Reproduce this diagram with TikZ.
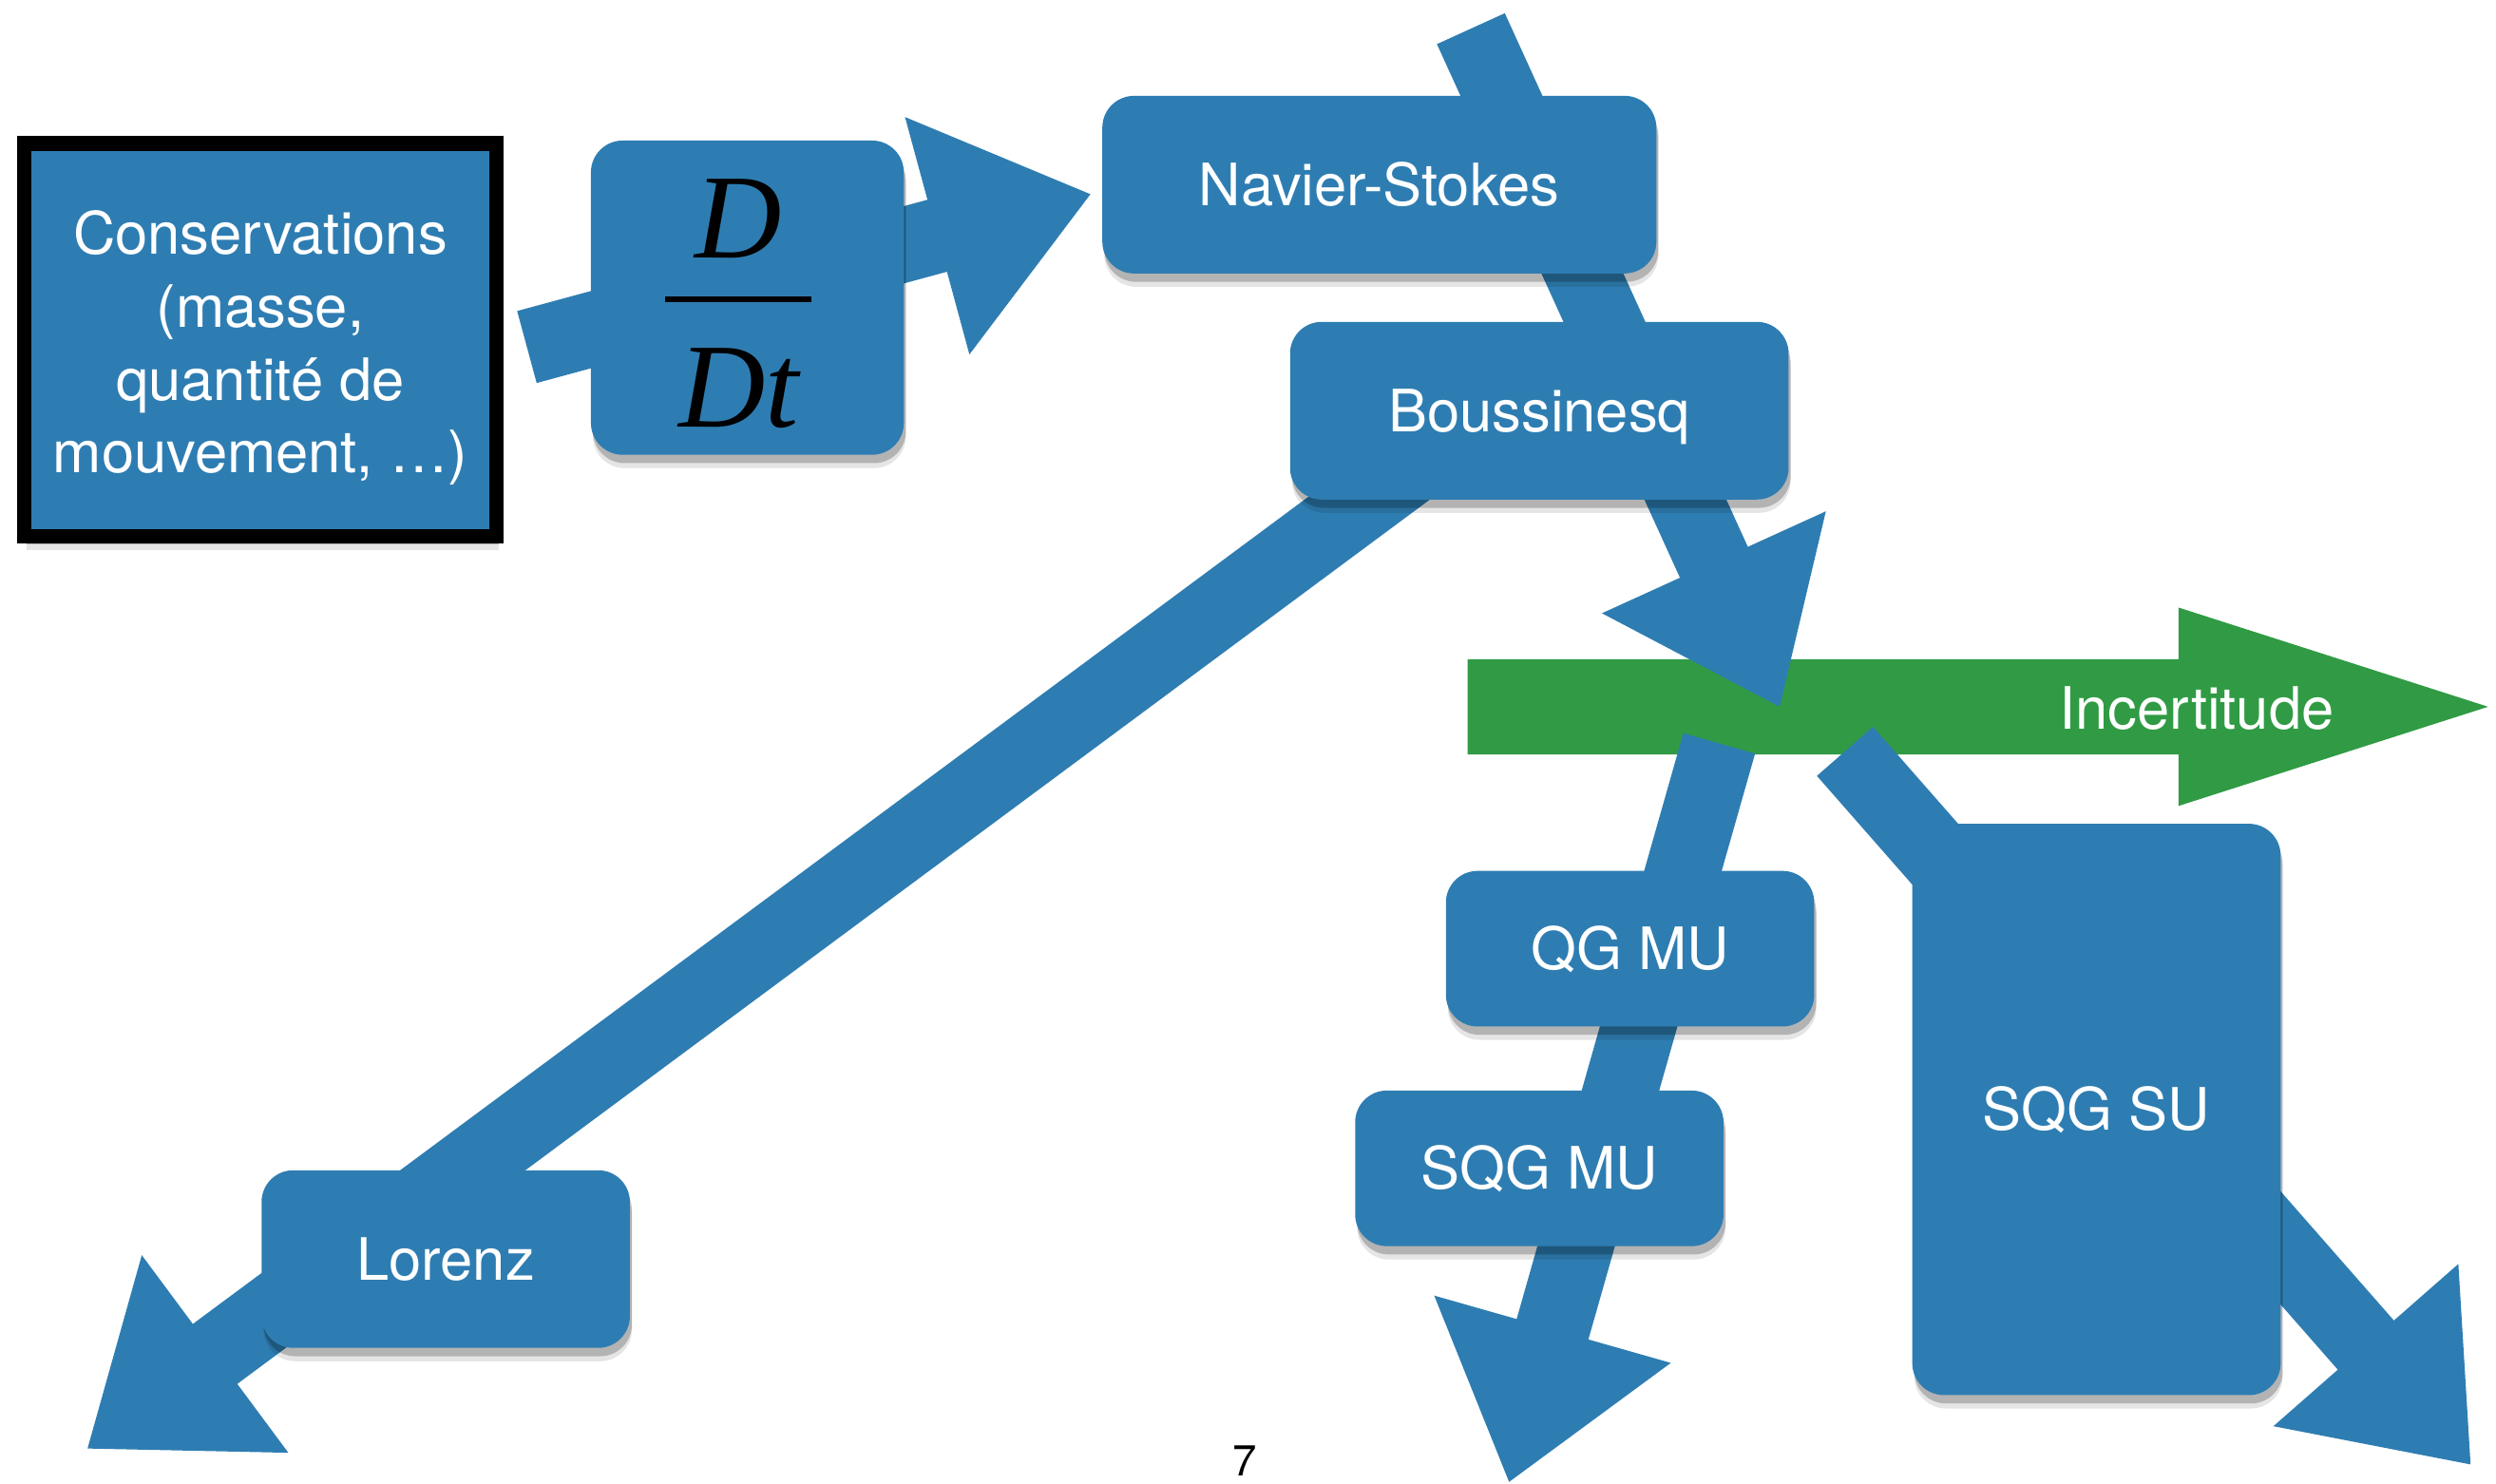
\documentclass[tikz,border=0pt]{standalone}
\usepackage{fontspec}
\setmainfont{TeX Gyre Heros}
\newfontfamily\timesfont{Liberation Serif}
\usetikzlibrary{calc,shadows}
\definecolor{felt}{RGB}{46,125,178}
\definecolor{feltgreen}{RGB}{48,155,68}
\pgfdeclarelayer{lowest}
\pgfdeclarelayer{low}
\pgfsetlayers{lowest,low,main}
% #1 style, #2 start, #3 tip, #4 shaft half width, #5 head half width, #6 head length
\newcommand\fatarrow[6]{%
  \coordinate (fa-m) at ($(#3)!#6!(#2)$);
  \fill[#1] ($(#2)!#4!90:(#3)$) -- ($(fa-m)!#4!-90:(#2)$) -- ($(fa-m)!#5!-90:(#2)$)
    -- (#3) -- ($(fa-m)!#5!90:(#2)$) -- ($(fa-m)!#4!90:(#2)$) -- ($(#2)!#4!-90:(#3)$) -- cycle;
}
\begin{document}
\begin{tikzpicture}[x=0.016754cm,y=-0.016754cm,
  softshadow/.style={
    drop shadow={shadow xshift=0.6pt, shadow yshift=-4pt, opacity=0.10, fill=black},
    drop shadow={shadow xshift=0.6pt, shadow yshift=-2.5pt, opacity=0.22, fill=black}},
  card/.style={fill=felt, rounded corners=9.5pt, inner sep=0pt, text=white,
    font=\fontsize{17.5}{21.9}\selectfont, text height=12.6pt, text depth=0pt,
    softshadow},
  framedcard/.style={fill=felt, draw=black, line width=4.5pt, inner sep=0pt, softshadow},
  bluearrow/.style={fill=felt},
  greenarrow/.style={fill=feltgreen},
  label/.style={text=white, font=\fontsize{17.5}{21.9}\selectfont, text height=12.6pt, text depth=0pt},
  fracfont/.style={font=\timesfont\itshape\fontsize{36}{36}\selectfont, inner sep=0pt}
]
\useasboundingbox (0,0) rectangle (1568,932.3);

% nodes
\node[framedcard, minimum width=141.4pt, minimum height=117.7pt] (cons) at (163.5,213.5) {};
\node[text=white, align=center, font=\fontsize{17.5}{21.9}\selectfont, inner sep=0pt]
  (constext) at (163.5,218.5) {Conservations\\(masse,\\quantité de\\mouvement, …)};
\node[card, minimum width=93.7pt, minimum height=94.1pt] (ddt) at (469.5,187) {};
\node[fracfont, anchor=base] (ddtD) at ($(ddt.center)+(-5.5,-25)$) {D};
\node[fracfont, anchor=base] (ddtDt) at ($(ddt.center)+(-5.5,81)$) {Dt};
\draw[line width=1.9pt] ($(ddt.center)+(-51.5,1)$) -- ($(ddt.center)+(40.5,1)$);

\node[card, minimum width=165.9pt, minimum height=53.2pt] (ns) at (866.5,116) {Navier-Stokes};
\node[card, minimum width=149.3pt, minimum height=53.2pt] (bq) at (967,258) {Boussinesq};
\node[card, minimum width=110.3pt, minimum height=53.2pt] (lorenz) at (280,791) {Lorenz};
\node[card, minimum width=110.3pt, minimum height=46.6pt] (qgmu) at (1024,596) {QG MU};
\node[card, minimum width=110.3pt, minimum height=46.6pt] (sqgmu) at (967,734) {SQG MU};
\node[card, minimum width=110.3pt, minimum height=171.1pt] (sqgsu) at (1317,697) {SQG SU};

\node[font=\fontsize{13}{15}\selectfont] (pagenum) at (782,918) {7};

% arrow end points
\coordinate (a1s) at (331,218);
\coordinate (a1t) at (685,122);
\coordinate (a2s) at (924,18);
\coordinate (a2t) at (1118,444);
\coordinate (a3s) at (945,250);
\coordinate (a3t) at (55,910);
\coordinate (a4s) at (1080,467);
\coordinate (a4t) at (948,931);
\coordinate (a5s) at (1159,472);
\coordinate (a5t) at (1552,920);
\coordinate (gs) at (922,444);
\coordinate (gt) at (1563,444);

\begin{pgfonlayer}{lowest}
  \fatarrow{greenarrow}{gs}{gt}{14.26pt}{29.71pt}{92.7pt}
\end{pgfonlayer}
\node[label] (incert) at (1380,445) {Incertitude};

\begin{pgfonlayer}{low}
  \fatarrow{bluearrow}{a1s}{a1t}{11.17pt}{36.84pt}{47.54pt}
  \fatarrow{bluearrow}{a2s}{a2t}{11.17pt}{36.84pt}{47.54pt}
  \fatarrow{bluearrow}{a3s}{a3t}{11.17pt}{36.84pt}{47.54pt}
  \fatarrow{bluearrow}{a4s}{a4t}{11.17pt}{36.84pt}{47.54pt}
  \fatarrow{bluearrow}{a5s}{a5t}{11.17pt}{36.84pt}{47.54pt}
\end{pgfonlayer}
\end{tikzpicture}
\end{document}
